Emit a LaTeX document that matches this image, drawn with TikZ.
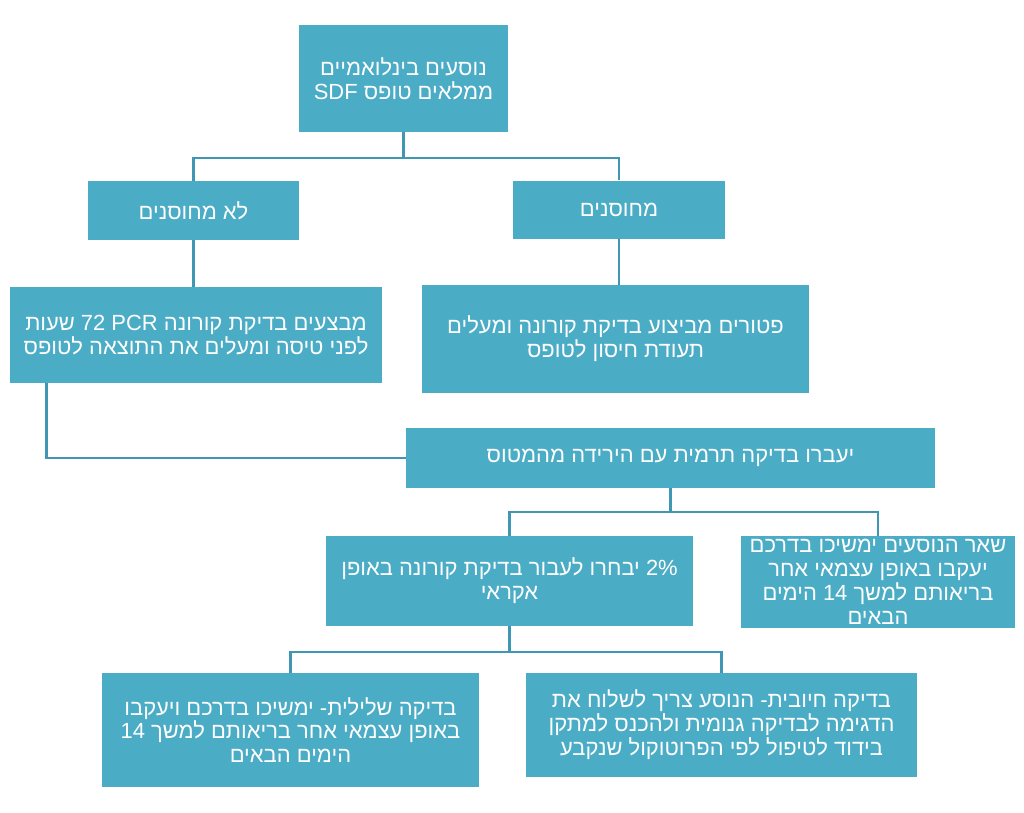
\documentclass[tikz,border=0pt]{standalone}
\usepackage{fontspec}
\newfontfamily\hebfont[Script=Hebrew]{Liberation Sans}
\TeXXeTstate=1
\usetikzlibrary{positioning}
\definecolor{cteal}{HTML}{4BACC6}
\definecolor{cline}{HTML}{3F97B4}
\newcommand{\rl}[1]{\beginR #1\endR}
\tikzset{
  every picture/.style={x=0.025cm, y=-0.025cm},
  box/.style={fill=#1, text=white, align=center, inner sep=0pt},
  box/.default=cteal,
  link/.style={draw=cline, line width=1.7pt},
}

\begin{document}
\begin{tikzpicture}[every node/.append style={font=\hebfont\fontsize{15.6}{17}\selectfont}]
  \useasboundingbox (0,0) rectangle (1024,812);
  \node[box, minimum width=5.225cm, minimum height=2.675cm] (top) at (403.5,78.5)
    {\rl{נוסעים בינלואמיים}\\\rl{ממלאים טופס SDF}};
  \node[box, minimum width=5.275cm, minimum height=1.475cm] (nv) at (193.5,210.5) {\rl{לא מחוסנים}};
  \node[box, minimum width=5.3cm, minimum height=1.45cm] (vac) at (619,209.5) {\rl{מחוסנים}};
  \node[box, minimum width=9.3cm, minimum height=2.375cm] (pcr) at (196,335)
    {\rl{מבצעים בדיקת קורונה PCR 72 שעות}\\\rl{לפני טיסה ומעלים את התוצאה לטופס}};
  \node[box, minimum width=9.675cm, minimum height=2.7cm] (exempt) at (615.5,339)
    {\rl{פטורים מביצוע בדיקת קורונה ומעלים}\\\rl{תעודת חיסון לטופס}};
  \node[box, minimum width=13.225cm, minimum height=1.5cm] (arrive) at (670.5,458)
    {\rl{יעברו בדיקה תרמית עם הירידה מהמטוס}};
  \node[box, minimum width=9.175cm, minimum height=2.25cm] (rnd) at (509.5,581)
    {\rl{\beginL 2\%\endL{} יבחרו לעבור בדיקת קורונה באופן}\\\rl{אקראי}};
  \node[box, minimum width=6.85cm, minimum height=2.3cm] (rest) at (878,582)
    {\rl{שאר הנוסעים ימשיכו בדרכם}\\\rl{יעקבו באופן עצמאי אחר}\\\rl{בריאותם למשך 14 הימים}\\\rl{הבאים}};
  \node[box, minimum width=9.425cm, minimum height=2.85cm] (neg) at (290.5,730)
    {\rl{בדיקה שלילית- ימשיכו בדרכם ויעקבו}\\\rl{באופן עצמאי אחר בריאותם למשך 14}\\\rl{הימים הבאים}};
  \node[box, minimum width=9.775cm, minimum height=2.6cm] (pos) at (721.5,725)
    {\rl{בדיקה חיובית- הנוסע צריך לשלוח את}\\\rl{הדגימה לבדיקה גנומית ולהכנס למתקן}\\\rl{בידוד לטיפול לפי הפרוטוקול שנקבע}};
  % branch points
  \coordinate (j1) at (403.5,158);
  \coordinate (j2) at (670.5,512);
  \coordinate (j3) at (509.5,652);
  \draw[link] (top) -- (j1);
  \draw[link] (nv.north) |- (j1) -| (vac.north);
  \draw[link] (nv.south) -- (nv.south |- pcr.north);
  \draw[link] (vac.south) -- (vac.south |- exempt.north);
  \draw[link] ([xshift=0.925cm]pcr.south west) |- (arrive.west);
  \draw[link] (arrive) -- (j2);
  \draw[link] (rnd.north) |- (j2) -| (rest.north);
  \draw[link] (rnd) -- (j3);
  \draw[link] (neg.north) |- (j3) -| (pos.north);
\end{tikzpicture}
\end{document}
